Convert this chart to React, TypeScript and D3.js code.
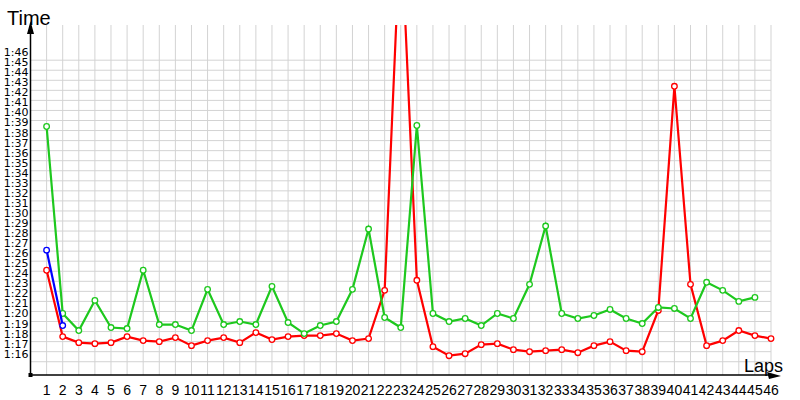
import React from "react";
import * as d3 from "d3";

// lap numbers and lap times in seconds (1:17.5 -> 77.5)
const laps = d3.range(1, 47);
const redTimes = [
  84.1, 77.5, 76.9, 76.8, 76.9, 77.5, 77.1, 77.0, 77.4, 76.6,
  77.1, 77.4, 76.9, 77.9, 77.2, 77.5, 77.6, 77.6, 77.8, 77.1,
  77.3, 82.1, 119.0, 83.1, 76.5, 75.6, 75.8, 76.7, 76.8, 76.2,
  76.0, 76.1, 76.2, 75.9, 76.6, 77.0, 76.1, 76.0, 80.1, 102.4,
  82.7, 76.6, 77.1, 78.1, 77.6, 77.3,
];
const greenTimes = [
  98.4, 79.8, 78.1, 81.1, 78.4, 78.3, 84.1, 78.7, 78.7, 78.1,
  82.2, 78.7, 79.0, 78.7, 82.5, 78.9, 77.8, 78.6, 79.0, 82.2,
  88.2, 79.4, 78.4, 98.5, 79.8, 79.0, 79.3, 78.6, 79.8, 79.3,
  82.7, 88.5, 79.8, 79.3, 79.6, 80.2, 79.3, 78.8, 80.4, 80.3,
  79.3, 82.9, 82.1, 81.0, 81.4,
];
const blueTimes = [86.1, 78.6];
const gridSeconds = d3.range(75, 106); // 1:15 .. 1:45
const labelSeconds = d3.range(76, 107); // 1:16 .. 1:46

const seriesList = [
  { name: "red", color: "#ff0000", values: redTimes },
  { name: "green", color: "#1ec81e", values: greenTimes },
  { name: "blue", color: "#0000ff", values: blueTimes },
];

const W = 800,
  H = 400;
const left = 30.5,
  right = 771,
  top = 25,
  bottom = 375;

const fmt = (s: number) => `1:${String(s - 60).padStart(2, "0")}`;

export default function App() {
  const x = d3.scaleLinear().domain([0, 46]).range([left, right]);
  const y = d3.scaleLinear().domain([73.68, 108.5]).range([bottom, top]);

  const line = d3
    .line<number>()
    .x((_, i) => x(i + 1))
    .y((d) => y(d));

  const font = "'Liberation Sans', Arial, sans-serif";

  return (
    <svg
      width={W}
      height={H}
      style={{ position: "absolute", left: 0, top: 0, background: "#fff" }}
      fontFamily={font}
    >
      <defs>
        <clipPath id="plot">
          <rect x={left} y={top} width={right - left + 6} height={bottom - top} />
        </clipPath>
      </defs>

      {/* grid */}
      <g stroke="#d3d3d3" strokeWidth={1}>
        {laps.map((l) => (
          <line key={"v" + l} x1={x(l)} x2={x(l)} y1={top} y2={bottom} />
        ))}
        {gridSeconds.map((s) => (
          <line key={"h" + s} x1={left} x2={right} y1={y(s)} y2={y(s)} />
        ))}
      </g>

      {/* series */}
      <g clipPath="url(#plot)">
        {seriesList.map((s) => (
          <g key={s.name}>
            <path
              d={line(s.values) || ""}
              fill="none"
              stroke={s.color}
              strokeWidth={2.2}
              strokeLinejoin="miter"
              strokeMiterlimit={8}
            />
            {s.values.map((v, i) => (
              <circle
                key={i}
                cx={x(i + 1)}
                cy={y(v)}
                r={2.8}
                fill="#fff"
                stroke={s.color}
                strokeWidth={1.3}
              />
            ))}
          </g>
        ))}
      </g>

      {/* axes */}
      <line x1={left} x2={left} y1={bottom} y2={32} stroke="#000" strokeWidth={1.5} />
      <path d={`M${left},21 L${left - 3.5},34 L${left + 3.5},34 Z`} fill="#000" />
      <line x1={left} x2={770} y1={bottom} y2={bottom} stroke="#000" strokeWidth={1.5} />
      <path d={`M781,${bottom + 1} L767,${bottom - 3} L769,${bottom + 4} Z`} fill="#000" />
      <rect x={left - 2} y={bottom - 2} width={4} height={4} fill="#000" />

      {/* y labels */}
      <g fontSize={11} fontFamily="'DejaVu Sans', sans-serif" textAnchor="end" fill="#000">
        {labelSeconds.map((s) => (
          <text key={s} x={28.5} y={y(s) + 6}>
            {fmt(s)}
          </text>
        ))}
      </g>

      {/* x labels */}
      <g fontSize={14} textAnchor="middle" fill="#000">
        {laps.map((l) => (
          <text key={l} x={x(l)} y={395}>
            {l}
          </text>
        ))}
      </g>

      <text x={7} y={25} fontSize={20} fill="#000">
        Time
      </text>
      <text x={744} y={372} fontSize={18} fill="#000">
        Laps
      </text>
    </svg>
  );
}
